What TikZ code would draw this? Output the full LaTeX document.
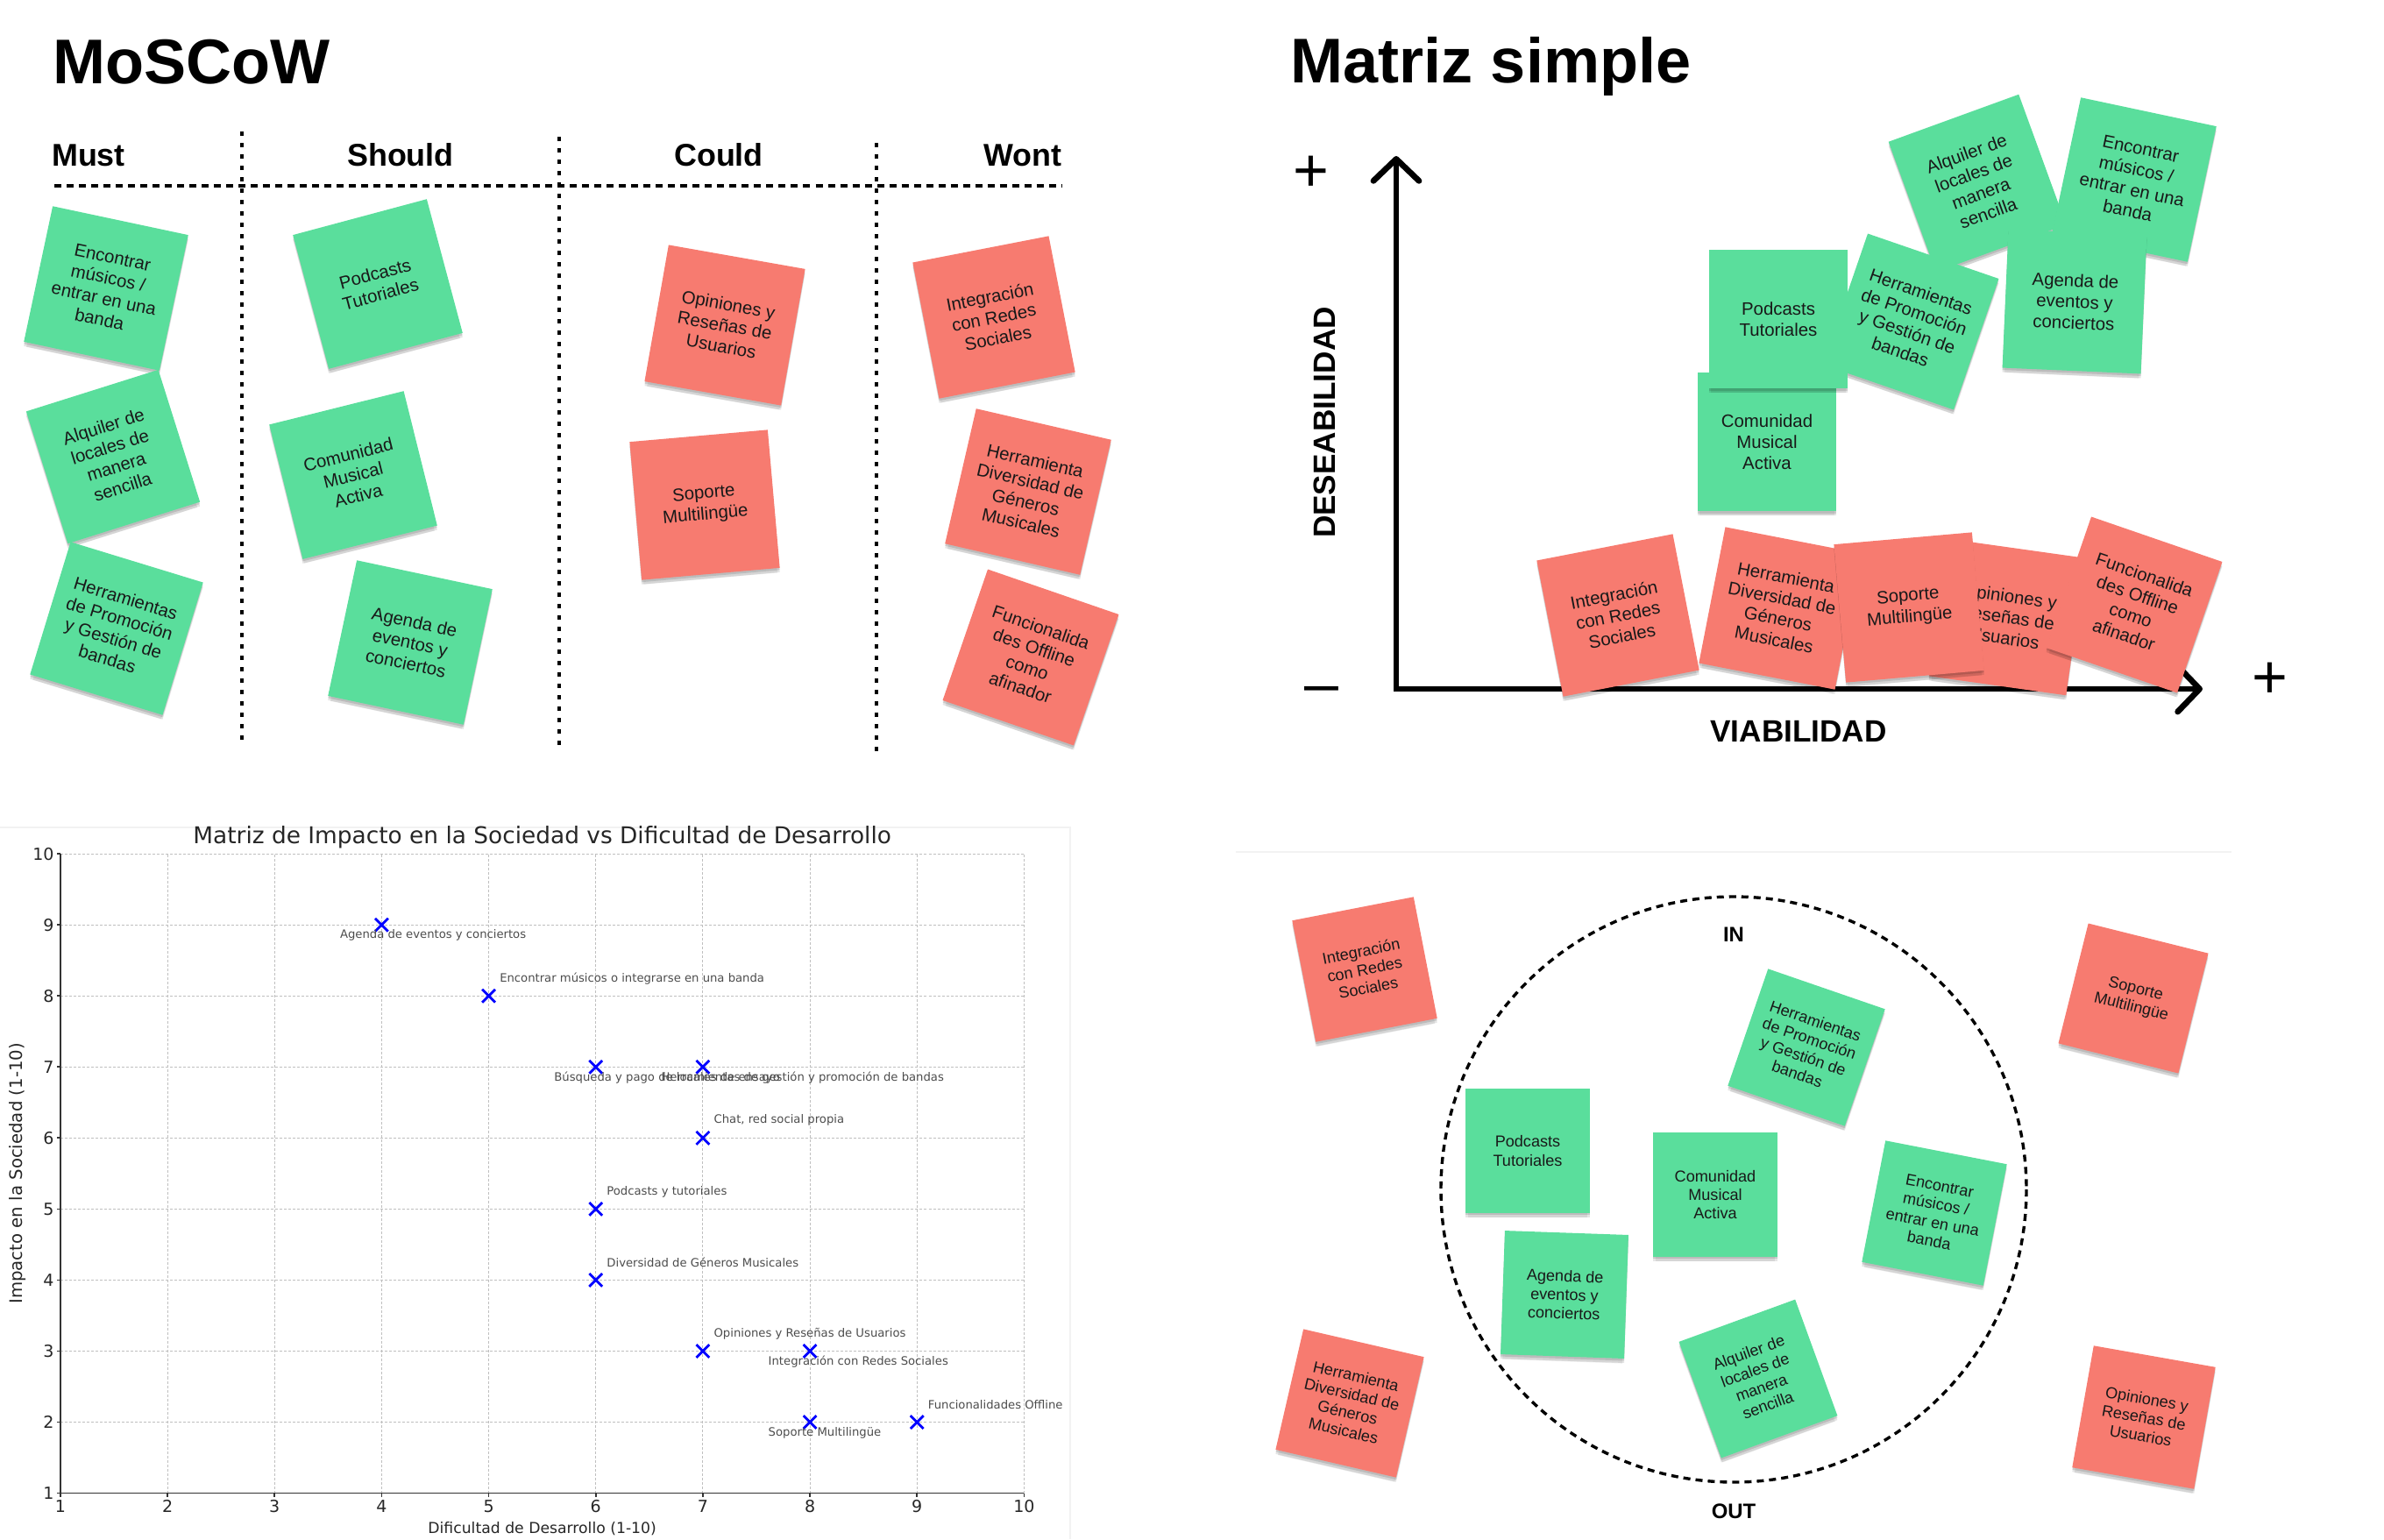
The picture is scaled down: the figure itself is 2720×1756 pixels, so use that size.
\documentclass[tikz,border=0pt]{standalone}
\usepackage{fontspec}
\setmainfont{Liberation Sans}
\newfontfamily\chartfont{DejaVu Sans}
\usetikzlibrary{arrows.meta,shadows,shapes.misc}

\definecolor{stickyGreen}{RGB}{90,222,156}
\definecolor{stickyRed}{RGB}{247,123,112}

\newcommand{\notetext}{\fontsize{5.8pt}{6.85pt}\selectfont}
\newcommand{\smalltext}{\fontsize{5.15pt}{6.05pt}\selectfont}
\newcommand{\bigtitle}{\fontsize{20.5pt}{24pt}\selectfont\bfseries}
\newcommand{\colhead}{\fontsize{10.2pt}{12pt}\selectfont\bfseries}
\newcommand{\axishead}{\fontsize{10pt}{12pt}\selectfont\bfseries}

\tikzset{
  sticky/.style={minimum width=#1, minimum height=#1, inner sep=0pt, align=center, text=black!90,
    drop shadow={shadow xshift=0cm, shadow yshift=-0.025cm, opacity=0.12, fill=black},
    drop shadow={shadow xshift=0cm, shadow yshift=-0.05cm, opacity=0.10, fill=black},
    drop shadow={shadow xshift=0cm, shadow yshift=-0.08cm, shadow scale=0.97, opacity=0.07, fill=black}},
  gnote/.style={sticky=1.58cm, fill=stickyGreen, font=\notetext},
  rnote/.style={sticky=1.58cm, fill=stickyRed, font=\notetext},
  gsmall/.style={sticky=1.41cm, fill=stickyGreen, font=\smalltext},
  rsmall/.style={sticky=1.41cm, fill=stickyRed, font=\smalltext},
  divider/.style={line width=0.034cm, dash pattern=on 0.05cm off 0.08cm},
  rule/.style={line width=0.034cm, dash pattern=on 0.08cm off 0.06cm},
  heading/.style={inner sep=0pt, font=\colhead},
  gridline/.style={black!25, line width=0.25pt, dash pattern=on 0.03cm off 0.02cm},
  spine/.style={black!80, line width=0.5pt},
  xmark/.style={draw=blue, cross out, minimum size=0.12cm, inner sep=0pt, line width=0.8pt},
  ticklbl/.style={inner sep=0pt, text=black!85, font=\chartfont\fontsize{5.4pt}{6.4pt}\selectfont},
  annot/.style={inner sep=0pt, text=black!70, font=\chartfont\fontsize{3.75pt}{4.4pt}\selectfont},
  tag up/.style={anchor=west, xshift=0.12cm, yshift=0.2cm},
  tag down/.style={anchor=west, xshift=-0.48cm, yshift=-0.12cm},
}

\begin{document}
\begin{tikzpicture}[x=0.01cm, y=-0.01cm]
\useasboundingbox (0,0) rectangle (2720,1756);

% ---------------- MoSCoW ----------------
\node[anchor=base west, inner sep=0pt, font=\bigtitle] (mw-title) at (60,95) {MoSCoW};

\node[heading, anchor=base] (mw-must) at (101,189) {Must};
\node[heading, anchor=base] (mw-should) at (457,189) {Should};
\node[heading, anchor=base] (mw-could) at (820,189) {Could};
\node[heading, anchor=base] (mw-wont) at (1167,189) {Wont};

\draw[rule] (62,212) -- (1211,212); % under the headings
\draw[divider] (276,150) -- (276,847);
\draw[divider] (638,156) -- (638,854);
\draw[divider] (1000,163) -- (1000,859);

% Must
\node[gnote, rotate=-12] (mw-enc) at (121,329) {Encontrar\\músicos /\\entrar en una\\banda};
\node[gnote, rotate=17.5] (mw-alq) at (129,521) {Alquiler de\\locales de\\manera\\sencilla};
\node[gnote, rotate=-17] (mw-her) at (133,717) {Herramientas\\de Promoción\\y Gestión de\\bandas};
% Should
\node[gnote, rotate=15] (mw-pod) at (431,324) {Podcasts\\Tutoriales};
\node[gnote, rotate=14] (mw-com) at (403,542) {Comunidad\\Musical\\Activa};
\node[gnote, rotate=-12] (mw-age) at (468,733) {Agenda de\\eventos y\\conciertos};
% Could
\node[rnote, rotate=-10] (mw-opi) at (827,371) {Opiniones y\\Reseñas de\\Usuarios};
\node[rnote, rotate=5] (mw-sop) at (804,576) {Soporte\\Multilingüe};
% Wont
\node[rnote, rotate=11] (mw-int) at (1134,362) {Integración\\con Redes\\Sociales};
\node[rnote, rotate=-13] (mw-div) at (1173,561) {Herramienta\\Diversidad de\\Géneros\\Musicales};
\node[rnote, rotate=-19] (mw-off) at (1176,750) {Funcionalida\\des Offline\\como\\afinador};

% ---------------- Matriz simple ----------------
\node[anchor=base west, inner sep=0pt, font=\bigtitle] (ms-title) at (1472,94) {Matriz simple};

\coordinate (ms-top) at (1593,178);
\coordinate (ms-origin) at (1593,786);
\coordinate (ms-right) at (2513,786);
\draw[line width=0.067cm, {Straight Barb[length=0.25cm,width=0.52cm,round]}-{Straight Barb[length=0.25cm,width=0.52cm,round]}]
  (ms-top) -- (ms-origin) -- (ms-right);

\node[inner sep=0pt, font=\fontsize{19.9pt}{22pt}\selectfont] (ms-plus-y) at (1496,198) {+};
\node[inner sep=0pt, font=\fontsize{19.9pt}{22pt}\selectfont] (ms-minus) at (1508,793) {–};
\node[inner sep=0pt, font=\fontsize{19.9pt}{22pt}\selectfont] (ms-plus-x) at (2590,776) {+};
\node[inner sep=0pt, font=\axishead] (ms-xlabel) at (2052,834) {VIABILIDAD};
\node[inner sep=0pt, font=\axishead, rotate=90] (ms-ylabel) at (1511,482) {DESEABILIDAD};

% green ones up top
\node[gnote, rotate=20] (ms-alq) at (2256,209) {Alquiler de\\locales de\\manera\\sencilla};
\node[gnote, rotate=-12] (ms-enc) at (2435,205) {Encontrar\\músicos /\\entrar en una\\banda};
\node[gnote, rotate=-19] (ms-her) at (2180,367) {Herramientas\\de Promoción\\y Gestión de\\bandas};
\node[gnote, rotate=-2.5] (ms-age) at (2367,344) {Agenda de\\eventos y\\conciertos};
\node[gnote] (ms-com) at (2016,504) {Comunidad\\Musical\\Activa};
\node[gnote] (ms-pod) at (2029,364) {Podcasts\\Tutoriales};
% red ones on the axis
\node[rnote, rotate=11] (ms-int) at (1846,702) {Integración\\con Redes\\Sociales};
\node[rnote, rotate=-11] (ms-div) at (2031,694) {Herramienta\\Diversidad de\\Géneros\\Musicales};
\node[rnote, rotate=-8] (ms-opi) at (2290,704) {Opiniones y\\Reseñas de\\Usuarios};
\node[rnote, rotate=5] (ms-sop) at (2178,693) {Soporte\\Multilingüe};
\node[rnote, rotate=-19] (ms-off) at (2435,690) {Funcionalida\\des Offline\\como\\afinador};

% ---------------- Chart ----------------
\draw[black!5, line width=0.5pt] (0,944) -- (1221,944) -- (1221,1756); % screenshot edge

\begin{scope}[shift={(-53.3,1784.6)}, x=1.221cm, y=0.81cm]
  \foreach \i in {1,...,10} {
    \draw[gridline] (\i,1) -- (\i,10);
    \draw[gridline] (1,\i) -- (10,\i);
    \draw[spine] (\i,1) -- (\i,0.95);
    \draw[spine] (1,\i) -- (0.967,\i);
    \node[ticklbl, anchor=north] (xt\i) at (\i,0.908) {\i};
    \node[ticklbl, anchor=east] (yt\i) at (0.945,\i) {\i};
  }
  \draw[spine] (1,10) -- (1,1) -- (10,1);

  \node[inner sep=0pt, text=black!85, font=\chartfont\fontsize{7.5pt}{9pt}\selectfont] (ch-title) at (5.5,10.23)
    {Matriz de Impacto en la Sociedad vs Dificultad de Desarrollo};
  \node[ticklbl, font=\chartfont\fontsize{4.9pt}{6pt}\selectfont] (ch-xlabel) at (5.5,0.5) {Dificultad de Desarrollo (1-10)};
  \node[ticklbl, font=\chartfont\fontsize{5.6pt}{6.6pt}\selectfont, rotate=90] (ch-ylabel) at (0.6,5.5) {Impacto en la Sociedad (1-10)};

  % points, label above right
  \foreach \dx/\dy/\txt [count=\k] in {5/8/{Encontrar músicos o integrarse en una banda},
      7/6/{Chat, red social propia}, 6/5/{Podcasts y tutoriales},
      6/4/{Diversidad de Géneros Musicales}, 7/3/{Opiniones y Reseñas de Usuarios},
      9/2/{Funcionalidades Offline}} {
    \node[xmark] (up\k) at (\dx,\dy) {};
    \node[annot, tag up] (uplbl\k) at (up\k) {\txt};
  }
  % points, label below left
  \foreach \dx/\dy/\txt [count=\k] in {4/9/{Agenda de eventos y conciertos},
      6/7/{Búsqueda y pago de locales de ensayo},
      7/7/{Herramientas de gestión y promoción de bandas},
      8/3/{Integración con Redes Sociales}, 8/2/{Soporte Multilingüe}} {
    \node[xmark] (dn\k) at (\dx,\dy) {};
    \node[annot, tag down] (dnlbl\k) at (dn\k) {\txt};
  }
\end{scope}

% ---------------- IN / OUT ----------------
\draw[black!5, line width=0.5pt] (1410,972) -- (2546,972); % screenshot edge
\draw[rule] (1978,1357) circle[radius=334];
\node[inner sep=0pt, font=\fontsize{6.8pt}{8pt}\selectfont\bfseries] (io-in) at (1978,1066) {IN};
\node[inner sep=0pt, font=\fontsize{6.8pt}{8pt}\selectfont\bfseries] (io-out) at (1978,1724) {OUT};

\node[rsmall, rotate=11] (br-int) at (1557,1106) {Integración\\con Redes\\Sociales};
\node[rsmall, rotate=-13] (br-div) at (1540,1601) {Herramienta\\Diversidad de\\Géneros\\Musicales};
\node[gsmall] (br-pod) at (1743,1313) {Podcasts\\Tutoriales};
\node[gsmall] (br-com) at (1957,1363) {Comunidad\\Musical\\Activa};
\node[gsmall, rotate=-2] (br-age) at (1785,1477) {Agenda de\\eventos y\\conciertos};
\node[gsmall, rotate=-19] (br-her) at (2061,1195) {Herramientas\\de Promoción\\y Gestión de\\bandas};
\node[gsmall, rotate=20] (br-alq) at (2006,1573) {Alquiler de\\locales de\\manera\\sencilla};
\node[gsmall, rotate=-11] (br-enc) at (2207,1384) {Encontrar\\músicos /\\entrar en una\\banda};
\node[rsmall, rotate=-14] (br-sop) at (2434,1139) {Soporte\\Multilingüe};
\node[rsmall, rotate=-10] (br-opi) at (2446,1617) {Opiniones y\\Reseñas de\\Usuarios};

\end{tikzpicture}
\end{document}
